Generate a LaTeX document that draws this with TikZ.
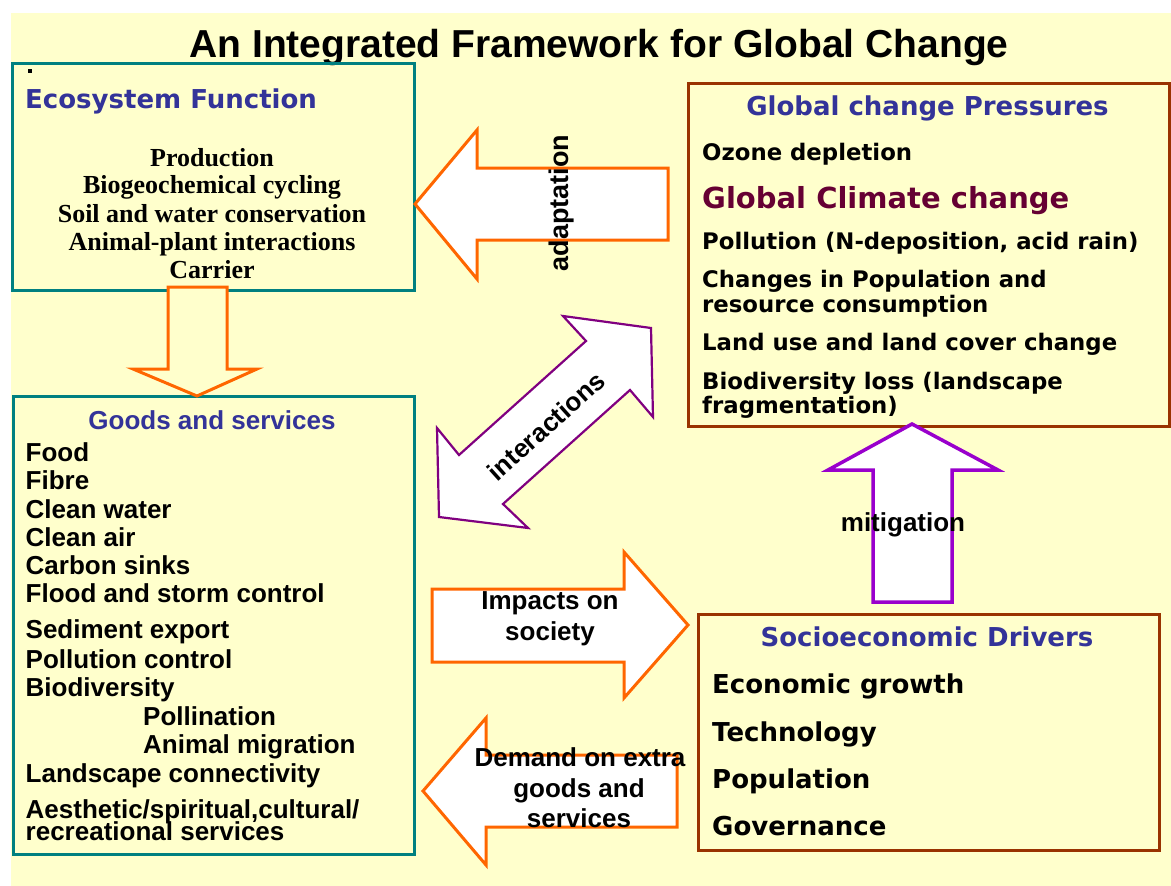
\documentclass[tikz,border=0pt]{standalone}
\usepackage{fontspec}
\setmainfont{Liberation Sans}
\newfontfamily\verd{DejaVu Sans}
\newfontfamily\tms{Liberation Serif}
\definecolor{bgyellow}{HTML}{FFFFCC}
\definecolor{tealbox}{HTML}{008080}
\definecolor{brownbox}{HTML}{993300}
\definecolor{hdblue}{HTML}{333399}
\definecolor{maroon}{HTML}{660033}
\definecolor{orangearrow}{HTML}{FF6600}
\definecolor{purplearrow}{HTML}{800080}
\definecolor{violetarrow}{HTML}{9900CC}
\tikzset{
  box/.style={draw, line width=3pt, inner sep=0pt, anchor=north west},
  ecobox/.style={box, draw=tealbox},
  brbox/.style={box, draw=brownbox},
  vhead/.style={font=\verd\bfseries\fontsize{26}{28}\selectfont, text=hdblue, inner sep=0pt},
  ahead/.style={font=\bfseries\fontsize{26}{28}\selectfont, text=hdblue, inner sep=0pt},
  timesitem/.style={font=\tms\bfseries\fontsize{26}{28}\selectfont, inner sep=0pt, anchor=base},
  gitem/.style={font=\bfseries\fontsize{26}{28}\selectfont, inner sep=0pt, anchor=base west},
  pitem/.style={font=\verd\bfseries\fontsize{22.8}{24}\selectfont, inner sep=0pt, anchor=base west},
  sitem/.style={font=\verd\bfseries\fontsize{26}{28}\selectfont, inner sep=0pt, anchor=base west},
  alabel/.style={font=\bfseries\fontsize{26}{28}\selectfont, inner sep=0pt, anchor=base},
  oarrow/.style={draw=orangearrow, line width=3pt, fill=white, line join=miter},
  parrow/.style={draw=purplearrow, line width=2.2pt, fill=white, line join=miter},
  varrow/.style={draw=violetarrow, line width=3.5pt, fill=white, line join=miter},
}
\begin{document}
\begin{tikzpicture}[x=1pt,y=-1pt]
\useasboundingbox (0,0) rectangle (1171,886);
\fill[white] (0,0) rectangle (1171,886);
\fill[bgyellow] (11,13) rectangle (1171,886);

% title
\node[anchor=base, inner sep=0pt, font=\bfseries\fontsize{39}{41}\selectfont] (title) at (599,57) {An Integrated Framework for Global Change};

% boxes
\node[ecobox, minimum width=402pt, minimum height=227pt] (eco) at (11,62) {};
\node[ecobox, minimum width=401pt, minimum height=458pt] (goods) at (12,395) {};
\node[brbox, minimum width=481pt, minimum height=343pt] (gcp) at (687,82) {};
\node[brbox, minimum width=461pt, minimum height=236pt] (socio) at (697,613) {};

% ecosystem function
\node[fill=black, minimum size=3.5pt, inner sep=0pt] (dot) at (30,71) {};
\node[vhead, anchor=base west] (ecohead) at (25,108) {Ecosystem Function};
\foreach \t/\y [count=\i] in {Production/166, Biogeochemical cycling/193, Soil and water conservation/222, Animal-plant interactions/250, Carrier/278}
  \node[timesitem] (eco\i) at (212,\y) {\t};

% down arrow eco -> goods
\draw[draw=orangearrow, line width=3pt, fill=bgyellow, line join=miter] (168,287) -- (227,287) -- (227,369) -- (257,369) -- (197,396) -- (133,369) -- (168,369) -- cycle;

% goods and services
\node[ahead, anchor=base] (goodshead) at (212,429) {Goods and services};
\foreach \t/\y [count=\i] in {Food/461, Fibre/489, Clean water/518, Clean air/546, Carbon sinks/574, Flood and storm control/602, Sediment export/638, Pollution control/668, Biodiversity/696, Landscape connectivity/782, {Aesthetic/spiritual,cultural/}/818, recreational services/840}
  \node[gitem] (g\i) at (25.5,\y) {\t};
\node[gitem] (gpoll) at (143,725) {Pollination};
\node[gitem] (gmig) at (143,753) {Animal migration};

% global change pressures
\node[vhead, anchor=base] (gcphead) at (927.5,115) {Global change Pressures};
\node[pitem] (p1) at (702,160) {Ozone depletion};
\node[pitem, font=\verd\bfseries\fontsize{29}{31}\selectfont, text=maroon] (p2) at (702,208) {Global Climate change};
\node[pitem] (p3) at (702,249) {Pollution (N-deposition, acid rain)};
\node[pitem] (p4) at (702,287) {Changes in Population and};
\node[pitem] (p4b) at (702,312) {resource consumption};
\node[pitem] (p5) at (702,350) {Land use and land cover change};
\node[pitem] (p6) at (702,389) {Biodiversity loss (landscape};
\node[pitem] (p6b) at (702,413) {fragmentation)};

% socioeconomic drivers
\node[vhead, anchor=base] (sochead) at (927,646) {Socioeconomic Drivers};
\node[sitem] (s1) at (712,693) {Economic growth};
\node[sitem] (s2) at (712,741) {Technology};
\node[sitem] (s3) at (712,788) {Population};
\node[sitem] (s4) at (712,835) {Governance};

% adaptation arrow
\draw[oarrow] (668,168) -- (477,168) -- (477,130) -- (415,204) -- (477,279) -- (477,240) -- (668,240) -- cycle;
\node[alabel, rotate=90, font=\bfseries\fontsize{27}{29}\selectfont] (adapt) at (568,203) {adaptation};

% interactions arrow
\draw[parrow] (563,316) -- (651,328) -- (653,417) -- (630,390) -- (503,504) -- (528,528) -- (439,517) -- (437,428) -- (459,455) -- (586,341) -- cycle;
\node[font=\bfseries\fontsize{26}{28}\selectfont, inner sep=0pt, rotate=42] (inter) at (546,426) {interactions};

% impacts arrow
\draw[oarrow] (432,589) -- (624,589) -- (624,552) -- (688,625) -- (624,698) -- (624,662) -- (432,662) -- cycle;
\node[alabel] (imp1) at (550,609) {Impacts on};
\node[alabel] (imp2) at (550,640) {society};

% demand arrow
\draw[oarrow] (677,755) -- (486,755) -- (486,718) -- (423,791) -- (486,865) -- (486,827) -- (677,827) -- cycle;
\node[alabel] (dem1) at (580,766) {Demand on extra};
\node[alabel] (dem2) at (579,797) {goods and};
\node[alabel] (dem3) at (579,827) {services};

% mitigation arrow
\draw[varrow] (873,602) -- (873,470) -- (828,470) -- (912,424) -- (998,470) -- (952,470) -- (952,602) -- cycle;
\node[alabel] (mit) at (903,531) {mitigation};
\end{tikzpicture}
\end{document}
